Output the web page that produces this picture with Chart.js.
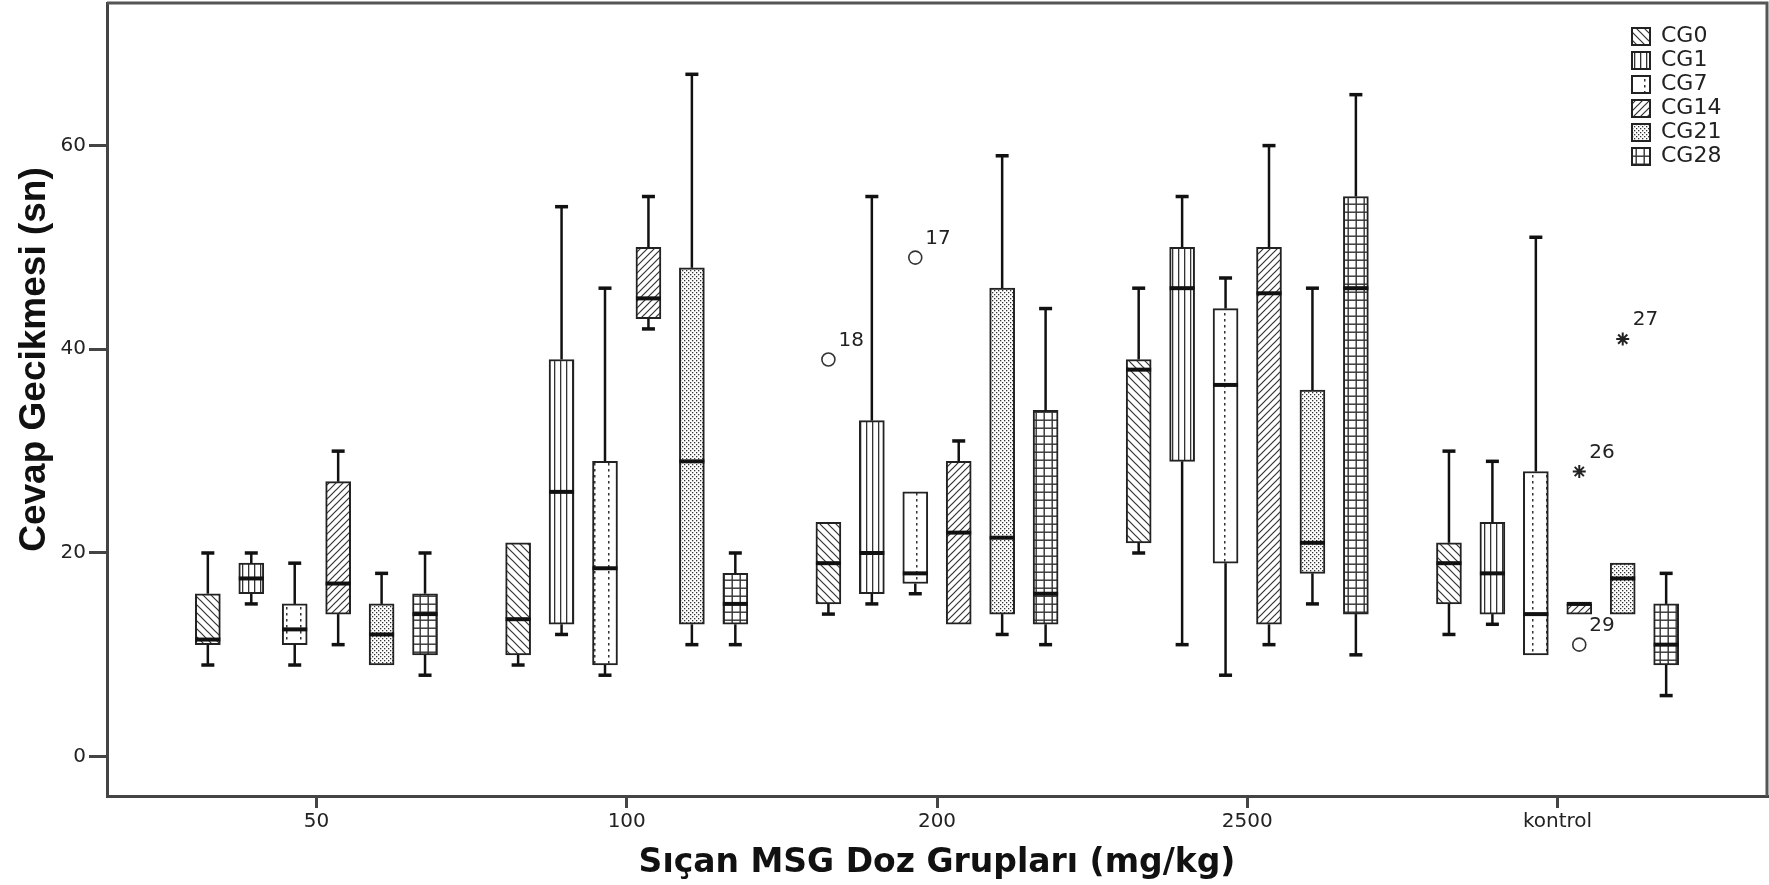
<!DOCTYPE html>
<html>
<head>
<meta charset="utf-8">
<title>Cevap Gecikmesi</title>
<script src="https://cdn.jsdelivr.net/npm/chart.js@4.4.1/dist/chart.umd.min.js"></script>
<style>
  html, body { margin: 0; padding: 0; background: #fff; }
  #wrap { width: 1769px; height: 885px; position: relative; }
</style>
</head>
<body>
<div id="wrap"><canvas id="boxChart"></canvas></div>
<script>
const groups = ['50', '100', '200', '2500', 'kontrol'];
const series = ['CG0', 'CG1', 'CG7', 'CG14', 'CG21', 'CG28'];

// five-number summary per series (rows) and dose group (columns)
const lowWhisker = [
  [9, 9, 14, 20, 12],
  [15, 12, 15, 11, 13],
  [9, 8, 16, 8, 10],
  [11, 42, 13, 11, 14],
  [9, 11, 12, 15, 14],
  [8, 11, 11, 10, 6]
];
const lowerQuartile = [
  [11, 10, 15, 21, 15],
  [16, 13, 16, 29, 14],
  [11, 9, 17, 19, 10],
  [14, 43, 13, 13, 14],
  [9, 13, 14, 18, 14],
  [10, 13, 13, 14, 9]
];
const medians = [
  [11.5, 13.5, 19, 38, 19],
  [17.5, 26, 20, 46, 18],
  [12.5, 18.5, 18, 36.5, 14],
  [17, 45, 22, 45.5, 15],
  [12, 29, 21.5, 21, 17.5],
  [14, 15, 16, 46, 11]
];
const upperQuartile = [
  [16, 21, 23, 39, 21],
  [19, 39, 33, 50, 23],
  [15, 29, 26, 44, 28],
  [27, 50, 29, 50, 15],
  [15, 48, 46, 36, 19],
  [16, 18, 34, 55, 15]
];
const highWhisker = [
  [20, 21, 23, 46, 30],
  [20, 54, 55, 55, 29],
  [19, 46, 26, 47, 51],
  [30, 55, 31, 60, 15],
  [18, 67, 59, 46, 19],
  [20, 20, 44, 65, 18]
];

// outliers (o) and extreme values (*) with case numbers
const outlierGroup = [2, 2, 4];
const outlierSeries = [0, 2, 3];
const outlierValue = [39, 49, 11];
const outlierCase = ['18', '17', '29'];
const extremeGroup = [4, 4];
const extremeSeries = [3, 4];
const extremeValue = [28, 41];
const extremeCase = ['26', '27'];

const yTicks = [0, 20, 40, 60];
const yTitle = 'Cevap Gecikmesi (sn)';
const xTitle = 'Sıçan MSG Doz Grupları (mg/kg)';

// boxes sit side by side around each group tick
const slot = 0.14;
const xOf = (g, s) => g + (s - (series.length - 1) / 2) * slot;

function hatch(w, h, paint) {
  const c = document.createElement('canvas');
  c.width = w;
  c.height = h;
  const g = c.getContext('2d');
  g.fillStyle = '#fff';
  g.fillRect(0, 0, w, h);
  g.strokeStyle = '#333';
  g.fillStyle = '#333';
  g.lineWidth = 1.2;
  paint(g);
  return g.createPattern(c, 'repeat');
}

const fills = [
  hatch(8, 8, (g) => {
    g.beginPath();
    g.moveTo(-1, -1); g.lineTo(9, 9);
    g.moveTo(-1, 7); g.lineTo(1, 9);
    g.moveTo(7, -1); g.lineTo(9, 1);
    g.stroke();
  }),
  hatch(6, 4, (g) => { g.fillRect(2, 0, 1.3, 4); }),
  hatch(14, 6, (g) => { g.fillRect(6, 1, 1.5, 2.5); }),
  hatch(7, 7, (g) => {
    g.beginPath();
    g.moveTo(-1, 8); g.lineTo(8, -1);
    g.moveTo(-1, 1); g.lineTo(1, -1);
    g.moveTo(6, 8); g.lineTo(8, 6);
    g.stroke();
  }),
  hatch(4, 4, (g) => { g.fillRect(0, 0, 1.3, 1.3); g.fillRect(2, 2, 1.3, 1.3); }),
  hatch(8, 8, (g) => { g.fillRect(3.5, 0, 1.4, 8); g.fillRect(0, 3.5, 8, 1.4); })
];

const boxSets = series.map((name, s) => ({
  type: 'bar',
  label: name,
  data: groups.map((_, g) => ({ x: xOf(g, s), y: [lowerQuartile[s][g], upperQuartile[s][g]] })),
  backgroundColor: fills[s],
  borderColor: '#222',
  borderWidth: 2,
  borderSkipped: false,
  barThickness: 25,
  grouped: false
}));

const outlierSet = {
  type: 'scatter',
  label: 'outlier',
  data: outlierValue.map((v, i) => ({ x: xOf(outlierGroup[i], outlierSeries[i]), y: v })),
  cases: outlierCase,
  pointStyle: 'circle',
  pointRadius: 6.5,
  borderColor: '#333',
  backgroundColor: 'rgba(255,255,255,0)',
  borderWidth: 1.6
};

const extremeSet = {
  type: 'scatter',
  label: 'extreme',
  data: extremeValue.map((v, i) => ({ x: xOf(extremeGroup[i], extremeSeries[i]), y: v })),
  cases: extremeCase,
  pointStyle: 'star',
  pointRadius: 6.5,
  borderColor: '#222',
  backgroundColor: '#222',
  borderWidth: 2
};

// whiskers, medians, case labels, plot frame and the vertical title
const boxPlotExtras = {
  id: 'boxPlotExtras',
  afterLayout(chart) {
    const lg = chart.legend;
    const area = chart.chartArea;
    if (!lg) return;
    lg.left = area.right - 137;
    lg.right = lg.left + lg.width;
    lg.top = area.top + 20.5;
    lg.bottom = lg.top + lg.height;
  },
  beforeDatasetsDraw(chart) {
    const { ctx, chartArea: a } = chart;
    ctx.save();
    ctx.strokeStyle = '#555';
    ctx.lineWidth = 3;
    ctx.beginPath();
    ctx.moveTo(a.left, a.top);
    ctx.lineTo(a.right, a.top);
    ctx.lineTo(a.right, a.bottom);
    ctx.stroke();
    ctx.restore();
  },
  afterDatasetsDraw(chart) {
    const { ctx } = chart;
    const y = chart.scales.y;
    ctx.save();
    ctx.strokeStyle = '#111';
    series.forEach((_, s) => {
      chart.getDatasetMeta(s).data.forEach((bar, g) => {
        const cx = bar.x;
        const half = bar.width / 2;
        const ends = [
          [upperQuartile[s][g], highWhisker[s][g]],
          [lowerQuartile[s][g], lowWhisker[s][g]]
        ];
        ends.forEach(([from, to]) => {
          if (from === to) return;
          const y0 = y.getPixelForValue(from);
          const y1 = y.getPixelForValue(to);
          ctx.lineWidth = 2.5;
          ctx.beginPath();
          ctx.moveTo(cx, y0);
          ctx.lineTo(cx, y1);
          ctx.stroke();
          ctx.lineWidth = 3.5;
          ctx.beginPath();
          ctx.moveTo(cx - 6.5, y1);
          ctx.lineTo(cx + 6.5, y1);
          ctx.stroke();
        });
        const ym = y.getPixelForValue(medians[s][g]);
        ctx.lineWidth = 4;
        ctx.beginPath();
        ctx.moveTo(cx - half, ym);
        ctx.lineTo(cx + half, ym);
        ctx.stroke();
      });
    });

    ctx.fillStyle = '#222';
    ctx.font = '20px "DejaVu Sans"';
    ctx.textAlign = 'left';
    ctx.textBaseline = 'middle';
    [series.length, series.length + 1].forEach((d) => {
      const cases = chart.data.datasets[d].cases;
      chart.getDatasetMeta(d).data.forEach((pt, i) => {
        ctx.fillText(cases[i], pt.x + 10, pt.y - 19);
      });
    });
    ctx.restore();
  },
  afterDraw(chart) {
    const { ctx, chartArea: a, scales } = chart;
    ctx.save();
    ctx.translate(scales.y.left + 35, (a.top + a.bottom) / 2 - 40);
    ctx.rotate(-Math.PI / 2);
    ctx.font = 'bold 37px "Liberation Sans"';
    ctx.fillStyle = '#111';
    ctx.textAlign = 'center';
    ctx.textBaseline = 'middle';
    ctx.fillText(yTitle, 0, 0);
    ctx.restore();
  }
};

Chart.defaults.font.family = "'DejaVu Sans', sans-serif";
Chart.defaults.color = '#222';

const axisGrid = (len) => ({
  display: true,
  drawOnChartArea: false,
  drawTicks: true,
  tickLength: len,
  lineWidth: 3,
  color: '#444',
  offset: false
});

// fixed axis boxes, no extra room reserved for edge labels
const fixSize = (size) => (scale) => {
  if (scale.isHorizontal()) scale.height = size;
  else scale.width = size;
  scale.paddingTop = 0;
  scale.paddingBottom = 0;
  scale.paddingLeft = 0;
  scale.paddingRight = 0;
};

const ctx = document.getElementById('boxChart').getContext('2d');
const boxChart = new Chart(ctx, {
  type: 'bar',
  data: { datasets: [...boxSets, outlierSet, extremeSet] },
  options: {
    responsive: true,
    maintainAspectRatio: false,
    animation: false,
    layout: { autoPadding: false, padding: { top: 3, right: 2, left: 0, bottom: 0 } },
    plugins: {
      legend: {
        position: 'chartArea',
        align: 'start',
        labels: {
          boxWidth: 18,
          boxHeight: 17,
          padding: 2,
          color: '#222',
          font: { size: 22 },
          filter: (item) => item.datasetIndex < series.length
        }
      },
      tooltip: { enabled: false }
    },
    scales: {
      x: {
        type: 'linear',
        min: -0.675,
        max: 4.675,
        offset: false,
        afterBuildTicks: (scale) => { scale.ticks = groups.map((_, i) => ({ value: i })); },
        afterFit: fixSize(89),
        ticks: {
          callback: (v) => groups[v],
          color: '#222',
          font: { size: 20 },
          padding: 2,
          maxRotation: 0,
          autoSkip: false
        },
        grid: axisGrid(12),
        border: { display: true, width: 3, color: '#444' },
        title: {
          display: true,
          text: xTitle,
          color: '#111',
          font: { size: 33, weight: 'bold' },
          padding: { top: 0, bottom: 2 }
        }
      },
      y: {
        min: -3.86,
        max: 74,
        afterBuildTicks: (scale) => { scale.ticks = yTicks.map((v) => ({ value: v })); },
        afterFit: fixSize(107),
        ticks: { color: '#222', font: { size: 20 }, padding: 3 },
        grid: axisGrid(18),
        border: { display: true, width: 3, color: '#444' }
      }
    }
  },
  plugins: [boxPlotExtras]
});
</script>
</body>
</html>
